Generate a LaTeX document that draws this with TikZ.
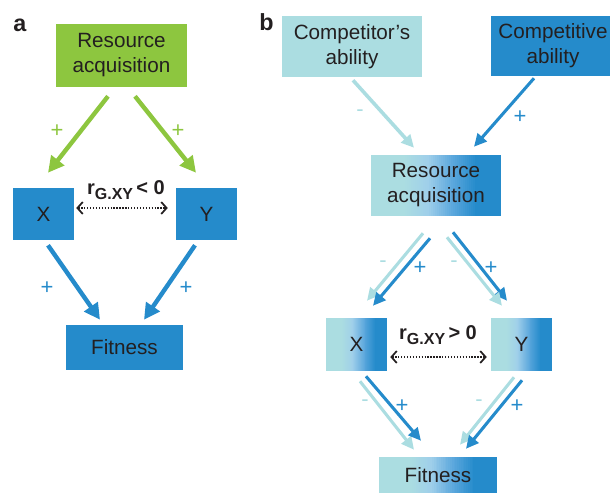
\documentclass[tikz,border=0pt]{standalone}
\usepackage{fontspec}
\setmainfont{Liberation Sans}
\usetikzlibrary{arrows.meta,calc}
\definecolor{grn}{HTML}{8DC63F}
\definecolor{blu}{HTML}{258BCB}
\definecolor{lcy}{HTML}{ABDDE1}
\definecolor{sky}{HTML}{9FCFEA}
\definecolor{midb}{HTML}{5DA8DD}
\definecolor{txt}{HTML}{231F20}
\tikzset{
  box/.style={draw=none, align=center, inner sep=0pt, text=txt,
    font=\fontsize{15.5}{18.75}\selectfont},
  sz/.style 2 args={minimum width=#1*0.75pt, minimum height=#2*0.75pt},
  gradbox/.style={box, fill=lcy, path picture={
    \foreach \i in {0,...,35}{
      \pgfmathsetmacro{\ta}{0.25+0.55*\i/36}
      \pgfmathsetmacro{\tb}{0.25+0.55*(\i+1)/36+0.004}
      \pgfmathtruncatemacro{\seg}{\i/12}
      \pgfmathtruncatemacro{\cm}{100*(\i-12*\seg)/12}
      \ifcase\seg \colorlet{stripc}{sky!\cm!lcy}\or\colorlet{stripc}{midb!\cm!sky}\else\colorlet{stripc}{blu!\cm!midb}\fi
      \fill[stripc]
        ($(path picture bounding box.south west)!\ta!(path picture bounding box.south east)$)
        rectangle ($(path picture bounding box.north west)!\tb!(path picture bounding box.north east)$);
    }
    \fill[blu]
      ($(path picture bounding box.south west)!0.80!(path picture bounding box.south east)$)
      rectangle (path picture bounding box.north east);}},
  sign/.style={inner sep=0pt, font=\fontsize{16.5}{18}\selectfont},
  panel/.style={inner sep=0pt, anchor=base west, text=txt, font=\fontsize{17.5}{20}\selectfont\bfseries},
  arra/.style={line width=3.3pt, -{Triangle[length=12pt,width=12pt]}},
  arrb/.style={line width=2.3pt, -{Triangle[length=9.5pt,width=9pt]}},
  dots/.style={line width=1.4pt, dash pattern=on 1pt off 1.2pt, txt,
    {Straight Barb[length=4pt,width=9pt,line width=1.3pt]}-{Straight Barb[length=4pt,width=9pt,line width=1.3pt]}},
  rlab/.style={inner sep=0pt, text=txt, font=\fontsize{15}{17}\selectfont\bfseries}
}
\newcommand{\rgxy}[1]{r\raisebox{-0.4ex}{\fontsize{12}{14}\selectfont G.XY}\,#1}
\begin{document}
\begin{tikzpicture}[x=0.75pt,y=-0.75pt]
\useasboundingbox (0,0) rectangle (610,494);
% ---------- panel a ----------
\node[panel] (la) at (13,31) {a};
\node[box, sz={131}{63}, fill=grn] (RAa) at (121.5,55.5) {Resource\\acquisition};
\node[box, sz={61}{52}, fill=blu] (Xa) at (43.5,214) {X};
\node[box, sz={61}{52}, fill=blu] (Ya) at (206.5,214) {Y};
\node[box, sz={117}{45}, fill=blu] (Fa) at (124.5,347.5) {Fitness};
\draw[arra, grn] ($(RAa.south)+(-13.5,9)$) -- ($(Xa.north)+(4.5,-15)$);
\draw[arra, grn] ($(RAa.south)+(13.5,9)$) -- ($(Ya.north)+(-10.5,-15)$);
\draw[arra, blu] ($(Xa.south)+(4.5,5)$) -- ($(Fa.north)+(-24.5,-5)$);
\draw[arra, blu] ($(Ya.south)+(-11.5,5)$) -- ($(Fa.north)+(19.5,-5)$);
\node[sign, text=grn] (pa1) at (57,131) {+};
\node[sign, text=grn] (pa2) at (178,131) {+};
\node[sign, text=blu] (pa3) at (47,288) {+};
\node[sign, text=blu] (pa4) at (186,288) {+};
\node[rlab] (ra) at (126,190) {\rgxy{< 0}};
\draw[dots] ($(Xa.east)+(2,-6)$) -- ($(Ya.west)+(-8,-6)$);
% ---------- panel b ----------
\node[panel] (lb) at (259,30) {b};
\node[box, sz={140}{61}, fill=lcy] (CA) at (352,46.5) {Competitor’s\\ability};
\node[box, sz={124}{60}, fill=blu] (CT) at (553,46) {Competitive\\ability};
\node[gradbox, sz={130}{61}] (RAb) at (436,185) {Resource\\acquisition};
\node[gradbox, sz={61}{53}] (Xb) at (356.5,344.5) {X};
\node[gradbox, sz={61}{53}] (Yb) at (521.5,344.5) {Y};
\node[gradbox, sz={118}{36}] (Fb) at (438,475) {Fitness};
\draw[arrb, lcy, line width=2.7pt] ($(CA.south)+(1,3)$) -- ($(RAb.north)+(-22,-6.5)$);
\draw[arrb, blu] ($(CT.south)+(-19,2)$) -- ($(RAb.north)+(38,-7.5)$);
\draw[arrb, lcy] ($(RAb.south)+(-13,17.5)$) -- ($(Xb.north)+(10.5,-17)$);
\draw[arrb, blu] ($(RAb.south)+(-6,22.5)$) -- ($(Xb.north)+(16.5,-12)$);
\draw[arrb, blu] ($(RAb.south)+(17,16.5)$) -- ($(Yb.north)+(-14.5,-17)$);
\draw[arrb, lcy] ($(RAb.south)+(11,21.5)$) -- ($(Yb.north)+(-19.5,-12)$);
\draw[arrb, lcy] ($(Xb.south)+(3.5,10)$) -- ($(Fb.north)+(-24,-7)$);
\draw[arrb, blu] ($(Xb.south)+(9.5,5)$) -- ($(Fb.north)+(-17,-16)$);
\draw[arrb, lcy] ($(Yb.south)+(-7.5,6)$) -- ($(Fb.north)+(22,-12)$);
\draw[arrb, blu] ($(Yb.south)+(0.5,9)$) -- ($(Fb.north)+(28,-8)$);
\node[sign, text=lcy] (mb1) at (360,113) {-};
\node[sign, text=blu] (pb1) at (520,117) {+};
\node[sign, text=lcy] (mb2) at (383,264) {-};
\node[sign, text=blu] (pb2) at (420,268) {+};
\node[sign, text=lcy] (mb3) at (454,264) {-};
\node[sign, text=blu] (pb3) at (491,268) {+};
\node[sign, text=lcy] (mb4) at (365,403) {-};
\node[sign, text=blu] (pb4) at (402,406) {+};
\node[sign, text=lcy] (mb5) at (479,403) {-};
\node[sign, text=blu] (pb5) at (517,406) {+};
\node[rlab] (rb) at (438,335) {\rgxy{> 0}};
\draw[dots] ($(Xb.east)+(3,12.5)$) -- ($(Yb.west)+(-4,12.5)$);
\end{tikzpicture}
\end{document}
